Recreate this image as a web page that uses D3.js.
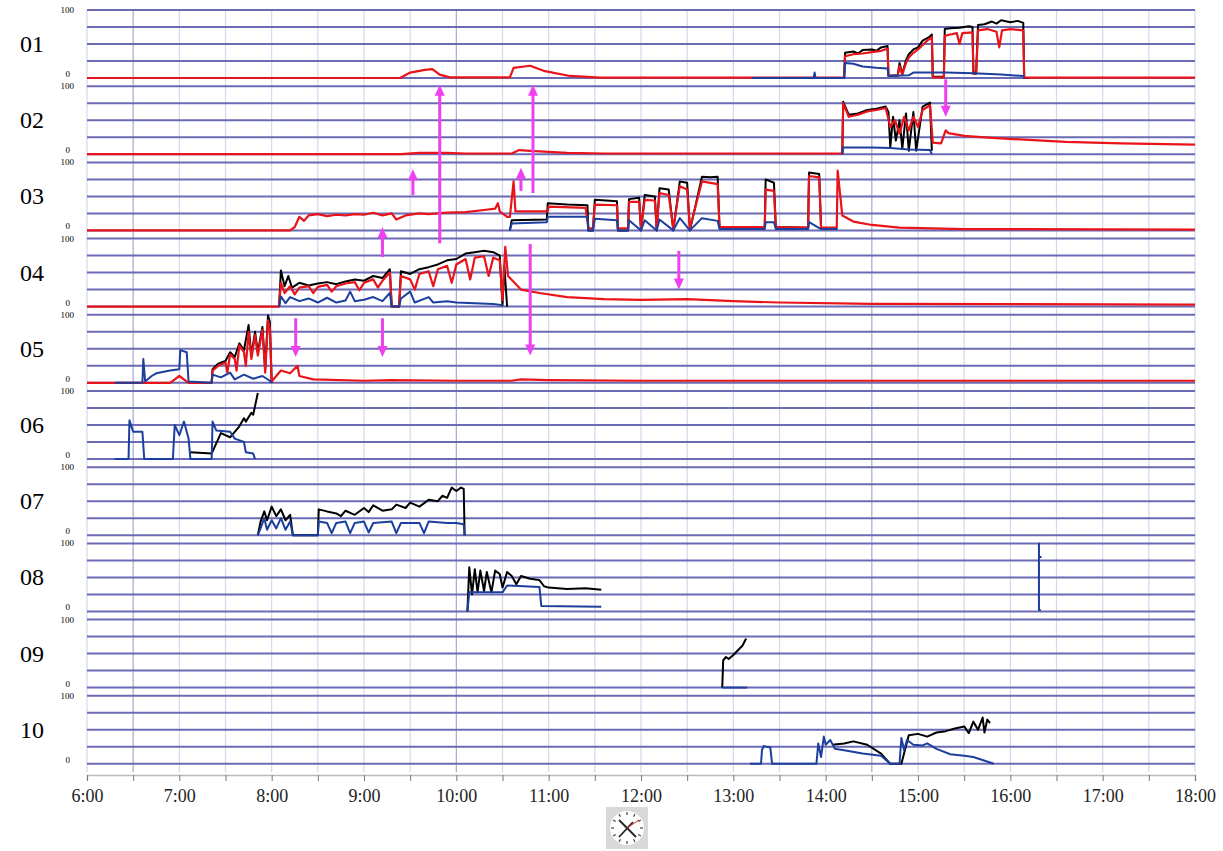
<!DOCTYPE html>
<html><head><meta charset="utf-8">
<script src="https://cdn.jsdelivr.net/npm/d3@7"></script>
<style>body{margin:0;background:#fff}</style>
</head><body><svg id="c" width="1223" height="851"></svg>
<script>
// ---- data: time in decimal hours, value 0..100 ----
var panelLabels = ['01','02','03','04','05','06','07','08','09','10'];
var xTicks = [6,7,8,9,10,11,12,13,14,15,16,17,18];

var black01 = [[13.2,0],[14.2,0],[14.21,37],[14.3,39],[14.35,36],[14.4,41],[14.5,42],[14.55,40],[14.6,45],[14.67,47],[14.68,3],[14.78,4],[14.8,22],[14.83,6],[14.87,26],[14.9,35],[14.95,42],[15.0,45],[15.05,55],[15.12,60],[15.15,64],[15.16,2],[15.28,2],[15.29,72],[15.35,73],[15.45,74],[15.55,76],[15.59,75],[15.6,8],[15.63,8],[15.65,78],[15.72,79],[15.8,83],[15.85,80],[15.9,85],[16.0,82],[16.08,84],[16.14,81],[16.15,0],[16.2,0]];
var red01 = [[6,0],[9.39,0],[9.5,8],[9.66,12],[9.74,13],[9.82,5],[9.93,1],[10.58,1],[10.62,15],[10.8,18],[10.96,10],[11.23,3],[11.56,0.5],[14.2,0.5],[14.21,32],[14.3,35],[14.4,36],[14.5,38],[14.6,40],[14.67,43],[14.68,4],[14.78,3],[14.8,18],[14.83,5],[14.87,22],[14.9,30],[14.95,37],[15.0,42],[15.1,55],[15.15,60],[15.16,1],[15.28,1],[15.29,62],[15.35,64],[15.42,66],[15.45,50],[15.48,66],[15.59,67],[15.6,6],[15.63,6],[15.65,70],[15.75,72],[15.85,68],[15.88,45],[15.91,70],[16.0,72],[16.14,70],[16.15,0.5],[18,0.5]];
var blue01 = [[13.2,0],[13.87,0],[13.88,8],[13.89,0],[14.2,0],[14.21,22],[14.3,21],[14.4,17],[14.55,15],[14.67,14],[14.68,3],[14.9,4],[14.95,8],[15.3,8],[15.6,7],[15.9,5],[16.14,3],[16.15,0]];

var black02 = [[14.18,0],[14.19,77],[14.25,58],[14.35,60],[14.45,65],[14.55,67],[14.65,70],[14.68,62],[14.7,10],[14.73,55],[14.76,20],[14.8,50],[14.83,8],[14.87,60],[14.9,5],[14.95,62],[14.98,5],[15.05,70],[15.13,76],[15.15,5]];
var red02 = [[6,0],[9.4,0],[9.6,2],[9.9,2],[10.1,1],[10.6,1],[10.68,6],[10.8,5],[11.2,2],[11.6,1],[14.18,1],[14.19,75],[14.25,55],[14.35,58],[14.45,63],[14.55,65],[14.65,68],[14.7,40],[14.75,50],[14.8,30],[14.85,55],[14.9,35],[14.95,55],[15.0,40],[15.05,65],[15.13,72],[15.16,17],[15.25,16],[15.3,35],[15.33,31],[15.5,27],[15.8,24],[16.2,21],[16.6,18],[17.2,16],[18,14]];
var blue02 = [[14.18,0],[14.19,10],[14.5,10],[14.7,9],[14.9,7],[15.13,6],[15.15,0]];

var black03 = [[10.58,0],[10.6,15],[10.98,16],[10.99,40],[11.2,38],[11.42,37],[11.43,0],[11.48,0],[11.5,45],[11.74,43],[11.75,0],[11.86,0],[11.87,46],[11.98,48],[12.0,0],[12.04,52],[12.15,50],[12.17,0],[12.2,62],[12.3,60],[12.35,0],[12.42,72],[12.5,70],[12.53,0],[12.66,79],[12.75,78],[12.83,79],[12.85,5],[13.34,5],[13.35,75],[13.44,70],[13.46,5],[13.81,4],[13.82,85],[13.93,83],[13.95,4]];
var red03 = [[6,0],[8.2,0],[8.25,5],[8.3,20],[8.35,14],[8.4,22],[8.5,24],[8.6,21],[8.7,23],[8.8,22],[8.9,24],[9.0,23],[9.1,26],[9.2,22],[9.3,25],[9.35,16],[9.45,22],[9.6,25],[9.7,24],[9.9,26],[10.1,27],[10.3,30],[10.42,32],[10.45,40],[10.47,28],[10.55,20],[10.58,20],[10.62,72],[10.64,28],[10.99,28],[11.0,35],[11.4,33],[11.43,3],[11.48,3],[11.5,38],[11.74,37],[11.75,3],[11.86,3],[11.87,42],[11.98,42],[12.0,3],[12.04,45],[12.15,44],[12.17,3],[12.2,55],[12.3,52],[12.35,3],[12.42,65],[12.5,60],[12.53,3],[12.66,72],[12.75,70],[12.83,68],[12.85,5],[13.34,5],[13.35,60],[13.44,58],[13.46,5],[13.81,4],[13.82,80],[13.93,78],[13.95,4],[14.12,4],[14.13,88],[14.18,22],[14.3,13],[14.5,8],[14.8,4],[15.5,2],[18,1]];
var blue03 = [[10.58,0],[10.6,10],[10.98,12],[10.99,20],[11.42,20],[11.43,0],[11.48,0],[11.5,17],[11.74,15],[11.75,0],[11.86,0],[11.87,15],[12.0,0],[12.04,15],[12.17,0],[12.2,16],[12.35,0],[12.42,18],[12.53,0],[12.66,18],[12.83,14],[12.85,2],[13.34,2],[13.35,12],[13.44,12],[13.46,2],[13.81,2],[13.82,12],[13.95,2],[14.13,2]];

var black04 = [[8.08,0],[8.1,53],[8.14,30],[8.18,45],[8.22,28],[8.3,35],[8.4,31],[8.5,34],[8.6,36],[8.7,33],[8.8,37],[8.9,40],[9.0,38],[9.1,45],[9.2,42],[9.28,55],[9.3,0],[9.38,0],[9.4,52],[9.5,48],[9.6,55],[9.7,58],[9.8,62],[9.9,68],[10.0,70],[10.1,78],[10.2,80],[10.3,82],[10.4,80],[10.47,75],[10.5,2],[10.52,60],[10.55,0]];
var red04 = [[6,0],[8.08,0],[8.1,35],[8.14,20],[8.2,30],[8.25,18],[8.3,28],[8.4,30],[8.45,20],[8.5,29],[8.6,32],[8.65,22],[8.7,30],[8.8,34],[8.9,36],[8.95,24],[9.0,35],[9.1,40],[9.15,28],[9.2,38],[9.28,50],[9.3,0],[9.38,0],[9.4,45],[9.5,40],[9.55,25],[9.6,48],[9.7,52],[9.75,30],[9.8,55],[9.9,60],[9.95,35],[10.0,62],[10.1,70],[10.15,40],[10.2,72],[10.3,74],[10.35,45],[10.4,72],[10.47,68],[10.5,10],[10.53,88],[10.56,45],[10.7,25],[10.9,20],[11.2,14],[11.6,11],[12.0,10],[12.5,11],[13.0,8],[13.5,6],[14.5,4],[18,3]];
var blue04 = [[8.08,0],[8.1,15],[8.15,5],[8.2,14],[8.3,8],[8.4,12],[8.5,6],[8.6,13],[8.7,6],[8.8,9],[8.85,22],[8.9,8],[9.0,10],[9.1,14],[9.2,8],[9.28,20],[9.3,0],[9.38,0],[9.4,12],[9.5,22],[9.55,6],[9.7,14],[9.75,6],[9.9,8],[10.0,6],[10.2,5],[10.4,4],[10.5,2]];

var black05 = [[7.35,0],[7.36,20],[7.42,28],[7.5,32],[7.55,45],[7.6,38],[7.65,58],[7.7,48],[7.75,85],[7.78,40],[7.82,75],[7.85,45],[7.9,82],[7.93,20],[7.96,99],[7.98,90],[8.0,0]];
var red05 = [[6,0],[6.9,0],[7.0,10],[7.1,0],[7.35,0],[7.36,18],[7.42,25],[7.5,30],[7.52,15],[7.55,42],[7.6,35],[7.62,18],[7.65,55],[7.7,45],[7.72,25],[7.75,75],[7.78,35],[7.82,70],[7.85,40],[7.9,78],[7.93,15],[7.96,92],[7.98,80],[8.0,2],[8.1,18],[8.2,14],[8.28,25],[8.3,10],[8.45,5],[9.0,3],[9.3,4],[10.0,3],[10.6,3],[10.7,5],[11.0,4],[12.0,3],[18,3]];
var blue05 = [[6.3,0],[6.6,0],[6.61,35],[6.63,2],[6.7,10],[6.75,14],[6.9,18],[7.0,20],[7.01,48],[7.08,45],[7.1,2],[7.35,0],[7.36,12],[7.45,8],[7.55,15],[7.6,5],[7.7,12],[7.8,6],[7.9,10],[7.98,3],[8.0,0]];

var black06 = [[7.12,10],[7.35,8],[7.45,38],[7.55,32],[7.6,40],[7.65,48],[7.7,60],[7.72,55],[7.78,68],[7.8,65],[7.85,97]];
var blue06 = [[6.3,0],[6.45,0],[6.46,57],[6.5,40],[6.6,40],[6.62,0],[6.93,0],[6.95,50],[7.0,35],[7.05,55],[7.1,30],[7.12,0],[7.35,0],[7.36,55],[7.4,42],[7.55,40],[7.6,30],[7.7,25],[7.72,10],[7.8,8],[7.82,0]];

var black07 = [[7.85,0],[7.88,20],[7.92,35],[7.95,22],[8.0,42],[8.05,28],[8.1,38],[8.15,22],[8.2,30],[8.23,0],[8.5,0],[8.51,38],[8.6,35],[8.7,32],[8.75,28],[8.8,36],[8.9,30],[9.0,40],[9.05,34],[9.1,44],[9.2,36],[9.3,38],[9.35,45],[9.45,40],[9.5,48],[9.6,42],[9.7,52],[9.8,50],[9.85,58],[9.9,55],[9.95,70],[10.0,65],[10.05,70],[10.08,68],[10.09,0]];
var blue07 = [[7.85,0],[7.88,10],[7.92,25],[7.95,8],[8.0,22],[8.05,10],[8.1,25],[8.15,8],[8.2,20],[8.23,0],[8.5,0],[8.51,20],[8.6,18],[8.65,3],[8.7,18],[8.8,20],[8.85,3],[8.9,18],[9.0,20],[9.05,4],[9.1,18],[9.3,20],[9.35,3],[9.4,18],[9.6,18],[9.65,3],[9.7,20],[9.9,18],[10.0,18],[10.08,16],[10.09,0]];

var black08 = [[10.12,0],[10.14,65],[10.17,25],[10.2,62],[10.23,28],[10.26,60],[10.3,30],[10.33,58],[10.38,28],[10.42,60],[10.47,55],[10.5,35],[10.55,58],[10.6,52],[10.65,40],[10.7,52],[10.8,48],[10.9,46],[10.95,37],[11.0,35],[11.2,33],[11.4,34],[11.57,32]];
var blue08 = [[10.12,0],[10.14,28],[10.5,28],[10.55,38],[10.9,36],[10.92,8],[11.57,7]];
var blue08b = [[16.31,2],[16.31,100],[16.31,80],[16.33,80],[16.31,80],[16.31,2],[16.33,2]];

var black09 = [[12.88,0],[12.89,40],[12.92,45],[12.95,42],[13.0,48],[13.05,55],[13.1,62],[13.13,70],[13.14,72]];
var blue09 = [[12.88,0],[13.15,0]];

var black10 = [[14.07,28],[14.2,30],[14.3,33],[14.45,28],[14.6,15],[14.7,0],[14.82,0],[14.9,42],[15.0,44],[15.1,40],[15.2,46],[15.3,48],[15.4,52],[15.5,55],[15.55,45],[15.6,62],[15.65,50],[15.7,68],[15.72,46],[15.75,65],[15.78,60]];
var blue10 = [[13.18,0],[13.3,0],[13.31,20],[13.33,26],[13.4,24],[13.42,0],[13.9,0],[13.92,30],[13.95,10],[13.98,40],[14.0,28],[14.05,35],[14.1,22],[14.2,20],[14.4,15],[14.6,12],[14.7,0],[14.8,0],[14.82,38],[14.85,20],[14.88,35],[14.95,28],[15.05,27],[15.1,30],[15.2,22],[15.35,14],[15.5,12],[15.6,10],[15.78,2],[15.82,0]];

// arrows: time, from [panel index, value], to [panel index, value]
var arrows = [
  [9.82,[3,93],[0,-10]],
  [10.83,[2,55],[0,-10]],
  [9.53,[2,52],[2,90]],
  [10.7,[2,58],[2,92]],
  [9.2,[3,73],[2,5]],
  [15.3,[0,-2],[1,55]],
  [10.8,[3,92],[4,40]],
  [12.41,[3,82],[3,25]],
  [8.26,[4,95],[4,38]],
  [9.2,[4,95],[4,38]]
];

var panels = [
  {black:black01, red:red01, blue:[blue01]},
  {black:black02, red:red02, blue:[blue02]},
  {black:black03, red:red03, blue:[blue03]},
  {black:black04, red:red04, blue:[blue04]},
  {black:black05, red:red05, blue:[blue05]},
  {black:black06, red:null, blue:[blue06]},
  {black:black07, red:null, blue:[blue07]},
  {black:black08, red:null, blue:[blue08, blue08b]},
  {black:black09, red:null, blue:[blue09]},
  {black:black10, red:null, blue:[blue10]}
];

// ---- layout ----
var svg = d3.select('#c');
var x = d3.scaleLinear().domain([6,18]).range([87,1195]);
var pitch = 76.2, ph = 68;
function yScale(i) {
  var top = 10 + i*pitch;
  return d3.scaleLinear().domain([0,100]).range([top+ph, top]);
}

// vertical grid every half hour
var halfHours = d3.range(6, 18.01, 0.5);
svg.selectAll('.vg').data(halfHours).enter().append('line')
  .attr('x1', d => x(d)).attr('x2', d => x(d))
  .attr('y1', 10).attr('y2', 772)
  .attr('stroke', d => (d===6.5||d===10||d===14.5) ? '#a8a8cc' : '#d6d6ee')
  .attr('stroke-width', 1.2);

var line = d3.line().x(d => x(d[0]));

panels.forEach(function(p, i) {
  var y = yScale(i);
  var g = svg.append('g');
  g.selectAll('.hg').data([0,25,50,75,100]).enter().append('line')
    .attr('x1', 87).attr('x2', 1195)
    .attr('y1', d => y(d)).attr('y2', d => y(d))
    .attr('stroke', '#6b6bb5').attr('stroke-width', 2);
  g.append('text').attr('x', 74).attr('y', y(100)+3)
    .attr('text-anchor','end').attr('font-family','Liberation Serif')
    .attr('font-size', 9).text('100');
  g.append('text').attr('x', 70).attr('y', y(0)-1)
    .attr('text-anchor','end').attr('font-family','Liberation Serif')
    .attr('font-size', 9).text('0');
  g.append('text').attr('x', 20).attr('y', y(50)+8)
    .attr('font-family','Liberation Serif').attr('font-size', 24).text(panelLabels[i]);

  line.y(d => y(d[1]));
  g.append('path').attr('d', line(p.black)).attr('fill','none')
    .attr('stroke','#000').attr('stroke-width',2).attr('stroke-linejoin','round');
  if (p.red) g.append('path').attr('d', line(p.red)).attr('fill','none')
    .attr('stroke','#e8141a').attr('stroke-width',2.2).attr('stroke-linejoin','round');
  p.blue.forEach(function(b) {
    g.append('path').attr('d', line(b)).attr('fill','none')
      .attr('stroke','#1c3f9e').attr('stroke-width',2).attr('stroke-linejoin','round');
  });
});

// arrows
var mag = '#ee3ff0';
arrows.forEach(function(a) {
  var ax = x(a[0]);
  var y1 = yScale(a[1][0])(a[1][1]);
  var y2 = yScale(a[2][0])(a[2][1]);
  var dir = y2 < y1 ? -1 : 1;
  svg.append('line').attr('x1', ax).attr('x2', ax).attr('y1', y1).attr('y2', y2 - dir*9)
    .attr('stroke', mag).attr('stroke-width', 3);
  svg.append('path')
    .attr('d', 'M' + (ax-5) + ',' + (y2 - dir*11) + 'L' + (ax+5) + ',' + (y2 - dir*11) + 'L' + ax + ',' + y2 + 'Z')
    .attr('fill', mag);
});

// x axis
var axis = d3.axisBottom(x).tickValues(halfHours).tickSize(6)
  .tickFormat(d => Number.isInteger(d) ? d + ':00' : '');
var ag = svg.append('g').attr('transform','translate(0,775)').call(axis);
ag.select('.domain').attr('stroke','#bbb').attr('stroke-width',1.5);
ag.selectAll('.tick line').attr('stroke','#777');
ag.selectAll('.tick text').attr('font-family','Liberation Serif').attr('font-size',18)
  .attr('dy', 18).attr('fill','#222');

// small clock icon
var cg = svg.append('g').attr('transform','translate(627,828)');
cg.append('rect').attr('x',-21).attr('y',-21).attr('width',42).attr('height',42).attr('fill','#d9d9d9');
cg.append('circle').attr('r',17).attr('fill','#fff');
d3.range(12).forEach(function(k) {
  var an = k*Math.PI/6;
  cg.append('line').attr('x1',Math.sin(an)*13).attr('y1',-Math.cos(an)*13)
    .attr('x2',Math.sin(an)*16).attr('y2',-Math.cos(an)*16).attr('stroke','#444').attr('stroke-width',1.2);
});
cg.append('line').attr('x1',-8).attr('y1',-8).attr('x2',9).attr('y2',9).attr('stroke','#222').attr('stroke-width',1.8);
cg.append('line').attr('x1',-8).attr('y1',9).attr('x2',6).attr('y2',-6).attr('stroke','#222').attr('stroke-width',1.8);
cg.append('line').attr('x1',0).attr('y1',0).attr('x2',12).attr('y2',-8).attr('stroke','#d22').attr('stroke-width',1);
</script></body></html>
